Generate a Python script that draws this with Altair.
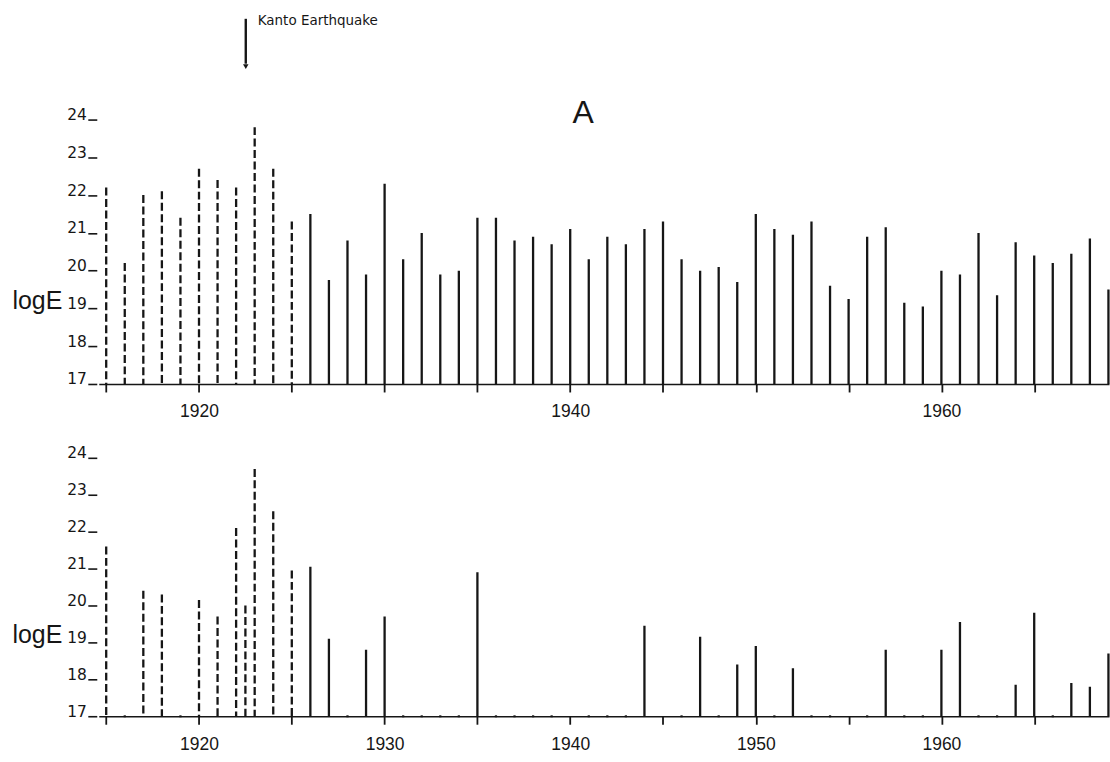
import altair as alt
import pandas as pd

# ---------------- data ----------------
# Panel A (top): one event per year 1915-1969
years_top = list(range(1915, 1970))
logE_top = [22.2, 20.2, 22.0, 22.1, 21.4, 22.7, 22.4, 22.2, 23.8, 22.7,
            21.3, 21.5, 19.75, 20.8, 19.9,
            22.3, 20.3, 21.0, 19.9, 20.0, 21.4, 21.4, 20.8, 20.9, 20.7,
            21.1, 20.3, 20.9, 20.7, 21.1, 21.3, 20.3, 20.0, 20.1, 19.7,
            21.5, 21.1, 20.95, 21.3, 19.6, 19.25, 20.9, 21.15, 19.15, 19.05,
            20.0, 19.9, 21.0, 19.35, 20.75, 20.4, 20.2, 20.45, 20.85, 19.5]

# Bottom panel: sparse events
years_bot = [1915, 1917, 1918, 1920, 1921, 1922, 1922.5, 1923, 1924, 1925,
             1926, 1927, 1929, 1930, 1935, 1944, 1947, 1949, 1950, 1952,
             1957, 1960, 1961, 1964, 1965, 1967, 1968, 1969]
logE_bot = [21.6, 20.4, 20.3, 20.15, 19.7, 22.1, 20.0, 23.7, 22.55, 20.95,
            21.05, 19.1, 18.8, 19.7, 20.9, 19.45, 19.15, 18.4, 18.9, 18.3,
            18.8, 18.8, 19.55, 17.85, 19.8, 17.9, 17.8, 18.7]
# years with no event (small dots on the baseline of the bottom panel)
dot_years_bot = [1916, 1919, 1928, 1931, 1932, 1933, 1934, 1936, 1937, 1938,
                 1939, 1941, 1942, 1943, 1946, 1948, 1951, 1953, 1954, 1956,
                 1958, 1959, 1962, 1963, 1966]

last_dashed_year = 1925
x_ticks = list(range(1915, 1970, 5))
top_label_years = [1920, 1940, 1960]
bot_label_years = [1920, 1930, 1940, 1950, 1960]
y_ticks = [17, 18, 19, 20, 21, 22, 23, 24]

annot_letter = "A"
annot_event = "Kanto Earthquake"
annot_event_year = 1922.52
annot_letter_year = 1940.7

# ---------------- styling ----------------
FONT = "Liberation Sans"
WIDE = "DejaVu Sans"
INK = "#161616"
X_DOMAIN = [1914.6, 1969.03]
W = 1012.5


def panel(years, values, height, label_years, dots=None):
    df = pd.DataFrame({"year": years, "logE": values})
    df["base"] = 17
    df["style"] = ["dashed" if y <= last_dashed_year else "solid" for y in years]

    label_list = "[" + ",".join(str(v) for v in label_years) + "]"
    xenc = alt.X(
        "year:Q",
        scale=alt.Scale(domain=X_DOMAIN, nice=False, zero=False),
        axis=alt.Axis(
            values=x_ticks, format="d",
            labelExpr=f"indexof({label_list}, datum.value) >= 0 ? datum.label : ''",
            domain=True, domainColor=INK, domainWidth=1.6,
            ticks=True, tickColor=INK, tickWidth=1.8, tickSize=8,
            labelFont=FONT, labelFontSize=17.5, labelColor=INK, labelPadding=11,
            labelFlush=False, labelOverlap=False, grid=False, title="",
        ),
    )
    yenc = alt.Y(
        "logE:Q",
        scale=alt.Scale(domain=[17, 24], nice=False, zero=False),
        axis=alt.Axis(
            values=y_ticks, format="d", domain=False, grid=False,
            ticks=True, tickColor=INK, tickWidth=1.6, tickSize=9, offset=2,
            labelFont=WIDE, labelFontSize=15.5, labelColor=INK, labelPadding=1.5,
            labelBaseline="alphabetic", labelOverlap=False, labelFlush=False,
            title="logE", titleAngle=0, titleAlign="right",
            titleBaseline="alphabetic", titleX=-35,
            titleY=height * 5 / 7, titleFont=FONT, titleFontSize=25,
            titleFontWeight="normal", titleColor=INK,
        ),
    )
    bars = alt.Chart(df).mark_rule(color=INK, strokeWidth=2.3).encode(
        x=xenc,
        y=yenc,
        y2="base:Q",
        strokeDash=alt.StrokeDash(
            "style:N",
            scale=alt.Scale(domain=["dashed", "solid"], range=[[8, 3.5], [1, 0]]),
            legend=None,
        ),
    )
    layers = [bars]
    if dots is not None:
        ddf = pd.DataFrame({"year": dots, "logE": [17] * len(dots)})
        layers.append(
            alt.Chart(ddf).mark_square(color=INK, size=5, opacity=0.8).encode(
                x=xenc, y=yenc
            )
        )
    return layers


# top panel
top_layers = panel(years_top, logE_top, 265, top_label_years)
top_layers += [
    alt.Chart().mark_text(text=annot_letter, font=FONT, fontSize=32, color=INK,
                          align="center", baseline="alphabetic").encode(
        x=alt.datum(annot_letter_year), y=alt.value(3)),
    alt.Chart().mark_rule(color=INK, strokeWidth=2.4).encode(
        x=alt.datum(annot_event_year), y=alt.value(-101), y2=alt.value(-56)),
    alt.Chart().mark_point(shape="triangle-down", filled=True, color=INK,
                           size=30, opacity=1).encode(
        x=alt.datum(annot_event_year), y=alt.value(-53)),
    alt.Chart().mark_text(text=annot_event, font=WIDE, fontSize=13.5, color=INK,
                          align="left", baseline="alphabetic", dx=12).encode(
        x=alt.datum(annot_event_year), y=alt.value(-95)),
]
top = alt.layer(*top_layers).properties(width=W, height=265)

bottom_layers = panel(years_bot, logE_bot, 259, bot_label_years, dots=dot_years_bot)
bottom = alt.layer(*bottom_layers).properties(width=W, height=259)

chart = (
    alt.vconcat(top, bottom, spacing=74, bounds="flush")
    .properties(padding={"left": 11, "top": 13, "right": 0, "bottom": 0},
                background="white")
    .configure_view(strokeWidth=0)
)

chart.save("out.html", embed_options={"renderer": "svg", "actions": False})
